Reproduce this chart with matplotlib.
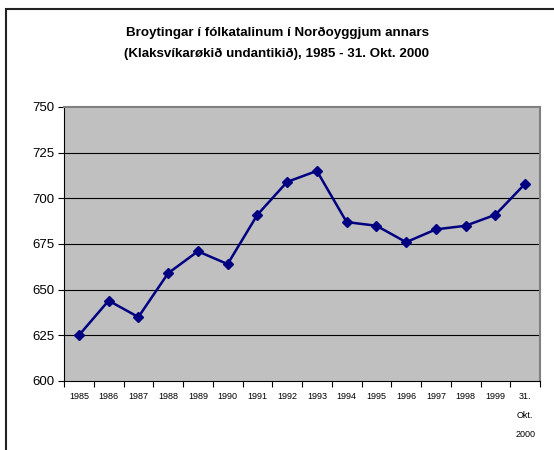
import matplotlib
matplotlib.use("Agg")
import matplotlib.pyplot as plt
from matplotlib.patches import Rectangle

categories = ["1985", "1986", "1987", "1988", "1989", "1990", "1991", "1992",
              "1993", "1994", "1995", "1996", "1997", "1998", "1999", "31.\nOkt.\n2000"]
values = [625, 644, 635, 659, 671, 664, 691, 709, 715, 687, 685, 676, 683, 685, 691, 708]
yticks = [600, 625, 650, 675, 700, 725, 750]
title = "Broytingar í fólkatalinum í Norðoyggjum annars\n(Klaksvíkarøkið undantikið), 1985 - 31. Okt. 2000"

plt.rcParams['font.family'] = ['Liberation Sans', 'DejaVu Sans']

W, H = 554, 450
fig = plt.figure(figsize=(W / 100, H / 100), dpi=100)
fig.patch.set_facecolor("white")

# outer chart border (right and bottom edges run off the image)
fig.add_artist(Rectangle((5.5 / W, -0.1), 1.2, 1.1 - 8.5 / H, transform=fig.transFigure,
                         fill=False, edgecolor="#222222", linewidth=1.5))

left, right, top, bottom = 64, 540, 107, 381
ax = fig.add_axes([left / W, 1 - bottom / H, (right - left) / W, (bottom - top) / H])
ax.set_facecolor("#c0c0c0")

x = list(range(len(categories)))
ax.plot(x, values, color="#000080", linewidth=1.8, marker="D", markersize=5.5,
        markerfacecolor="#000080", markeredgecolor="#000080", zorder=3)

ax.set_xlim(-0.5, len(categories) - 0.5)
ax.set_ylim(yticks[0], yticks[-1])
ax.set_yticks(yticks)
ax.set_yticklabels([str(v) for v in yticks], fontsize=9.5)
for v in yticks[1:-1]:
    ax.axhline(v, color="black", linewidth=0.8, zorder=1)

ax.set_xticks(x)
ax.set_xticklabels(categories, fontsize=6.5, linespacing=2.4, va="top")
ax.tick_params(axis="x", which="major", length=0, pad=8)
ax.set_xticks([i - 0.5 for i in range(len(categories) + 1)], minor=True)
ax.tick_params(axis="x", which="minor", length=4, width=0.8, direction="out")
ax.tick_params(axis="y", length=4, width=0.8, direction="out", pad=3)

for s in ["top", "right"]:
    ax.spines[s].set_color("#808080")
    ax.spines[s].set_linewidth(1.5)
ax.spines["left"].set_color("black")
ax.spines["bottom"].set_color("black")
ax.spines["left"].set_linewidth(0.8)
ax.spines["bottom"].set_linewidth(0.8)

fig.text(0.5, 1 - 43.5 / H, title, ha="center", va="center", fontsize=9.6,
         fontweight="bold", linespacing=1.95)

fig.savefig("out.png", dpi=100)
